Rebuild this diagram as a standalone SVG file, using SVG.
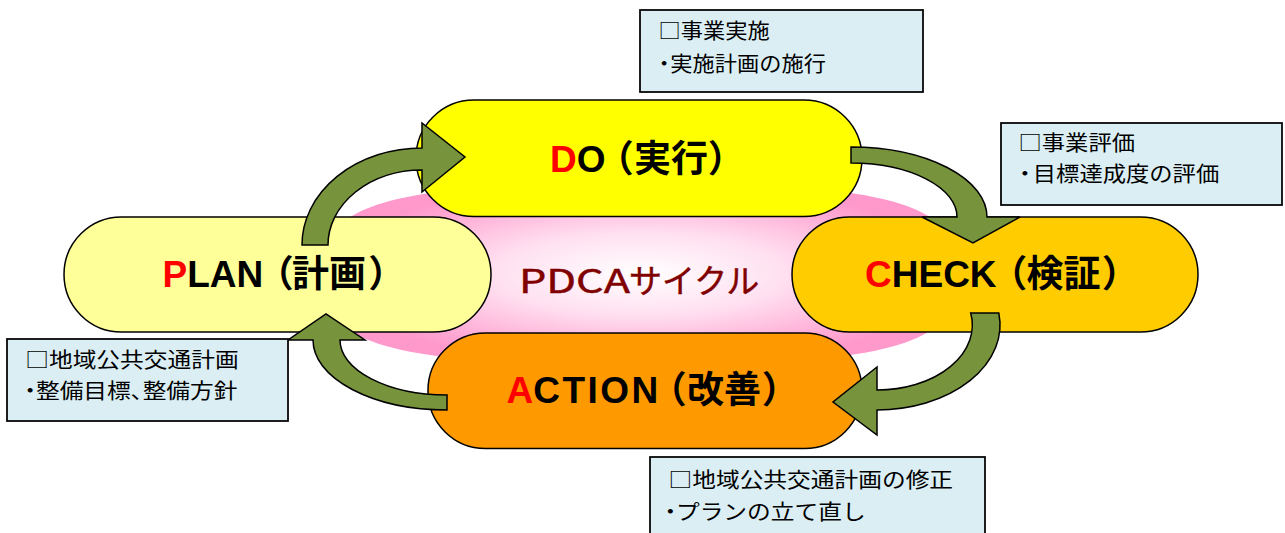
<svg xmlns="http://www.w3.org/2000/svg" width="1285" height="533" viewBox="0 0 1285 533">
<defs>
<radialGradient id="pinkGrad" cx="0.5" cy="0.5" r="0.5">
<stop offset="0" stop-color="#FFFFFF"/>
<stop offset="0.45" stop-color="#FFE0F0"/>
<stop offset="1" stop-color="#FF99CC"/>
</radialGradient>
<style>
.node rect{stroke:#000;stroke-width:1.5}
.lbl{font-family:'Liberation Sans','Noto Sans CJK JP',sans-serif;font-weight:bold;font-size:37px;fill:#000}
.cjk{font-family:'Noto Sans CJK JP',sans-serif}
.palt{font-feature-settings:"palt" 1}
.red{fill:#FF0000}
.arrow{fill:#77933C;stroke:#000;stroke-width:1.5;stroke-linejoin:miter}
.box rect{fill:#DAEEF3;stroke:#000;stroke-width:1.75}
.bt{font-family:'Noto Sans CJK JP',sans-serif;font-size:21px;fill:#000}
.pdca{font-family:'Noto Sans CJK JP',sans-serif;font-size:33px;fill:#800000;stroke:#800000;stroke-width:0.45}
</style>
</defs>
<rect width="1285" height="533" fill="#FFFFFF"/>
<g id="cycle">
<path d="M640,183 C890,183 960,203 960,274 C960,345 890,365 640,365 C390,365 320,345 320,274 C320,203 390,183 640,183 Z" fill="url(#pinkGrad)"/>
</g>
<g id="do" class="node">
<rect x="416" y="100" width="446" height="116.5" rx="58" ry="58" fill="#FFFF00"/>
<text class="lbl" y="172"><tspan x="550" class="red">D</tspan><tspan>O</tspan><tspan x="613.5" class="cjk palt">（</tspan><tspan x="634" class="cjk">実行</tspan><tspan x="709.5" class="cjk palt">）</tspan></text>
</g>
<g id="plan" class="node">
<rect x="64" y="217" width="427" height="115" rx="57.5" ry="57.5" fill="#FFFF99"/>
<text class="lbl" y="287"><tspan x="162.5" class="red">P</tspan><tspan>LAN</tspan><tspan x="273.5" class="cjk palt">（</tspan><tspan x="292" class="cjk">計画</tspan><tspan x="370" class="cjk palt">）</tspan></text>
</g>
<g id="check" class="node">
<rect x="792" y="217" width="406" height="115" rx="57.5" ry="57.5" fill="#FFCC00"/>
<text class="lbl" y="287"><tspan x="865" class="red">C</tspan><tspan>HECK</tspan><tspan x="1007" class="cjk palt">（</tspan><tspan x="1026.5" class="cjk">検証</tspan><tspan x="1103.5" class="cjk palt">）</tspan></text>
</g>
<g id="action" class="node">
<rect x="428" y="333" width="434" height="115.5" rx="57.5" ry="57.5" fill="#FF9900"/>
<text class="lbl" y="403"><tspan x="506.5" class="red">A</tspan><tspan letter-spacing="2.5">CTION</tspan><tspan x="666.5" class="cjk palt">（</tspan><tspan x="687" class="cjk">改善</tspan><tspan x="763.5" class="cjk palt">）</tspan></text>
</g>
<g id="cycle-label">
<text class="pdca" y="293"><tspan x="519" textLength="111" lengthAdjust="spacingAndGlyphs">PDCA</tspan><tspan x="629">サイクル</tspan></text>
</g>
<g id="connectors">
<path class="arrow" d="M302,245 A120,97 0 0 1 422,148 L422,123 L465,157 L422,192 L422,170 A94,75 0 0 0 328,245 Z"/>
<path class="arrow" d="M851,147 A136,70 0 0 1 987,217 L1020,217 L973,243 L922,217 L957,217 A106,54 0 0 0 851,163 Z"/>
<path class="arrow" d="M998.8,313 A123,85 0 0 1 877,410 L877,435 L833,402 L877,367 L877,390 A95,65 0 0 0 970.7,313 Z"/>
<path class="arrow" d="M447,410 A134,70 0 0 1 313,340 L288,340 L326,314 L365,340 L340,340 A107,55 0 0 0 447,395 Z"/>
</g>
<g id="box-do" class="box">
<rect x="640" y="10" width="283" height="82"/>
<g transform="translate(658.5,0) scale(1.06,1)">
<text class="bt" x="0" y="38.5">□事業実施</text>
<text class="bt" y="71"><tspan x="0" class="palt">・</tspan><tspan x="11.1">実施計画の施行</tspan></text>
</g>
</g>
<g id="box-check" class="box">
<rect x="1001" y="123" width="281" height="82"/>
<g transform="translate(1018.5,0) scale(1.11,1)">
<text class="bt" x="0" y="150">□事業評価</text>
<text class="bt" y="181.5"><tspan x="0.5" class="palt">・</tspan><tspan x="12.9">目標達成度の評価</tspan></text>
</g>
</g>
<g id="box-plan" class="box">
<rect x="7" y="339" width="281" height="82"/>
<g transform="translate(25.2,0) scale(1.13,1)">
<text class="bt" x="0" y="367">□地域公共交通計画</text>
<text class="bt" y="398.5"><tspan x="-1" class="palt">・</tspan><tspan x="9.5">整備目標</tspan><tspan class="palt">、</tspan><tspan>整備方針</tspan></text>
</g>
</g>
<g id="box-action" class="box">
<rect x="650" y="457" width="335" height="82"/>
<g transform="translate(668.5,0) scale(1.13,1)">
<text class="bt" x="0" y="487">□地域公共交通計画の修正</text>
<text class="bt" y="519"><tspan x="-3.5" class="palt">・</tspan><tspan x="6.6">プランの立て直し</tspan></text>
</g>
</g>
</svg>
